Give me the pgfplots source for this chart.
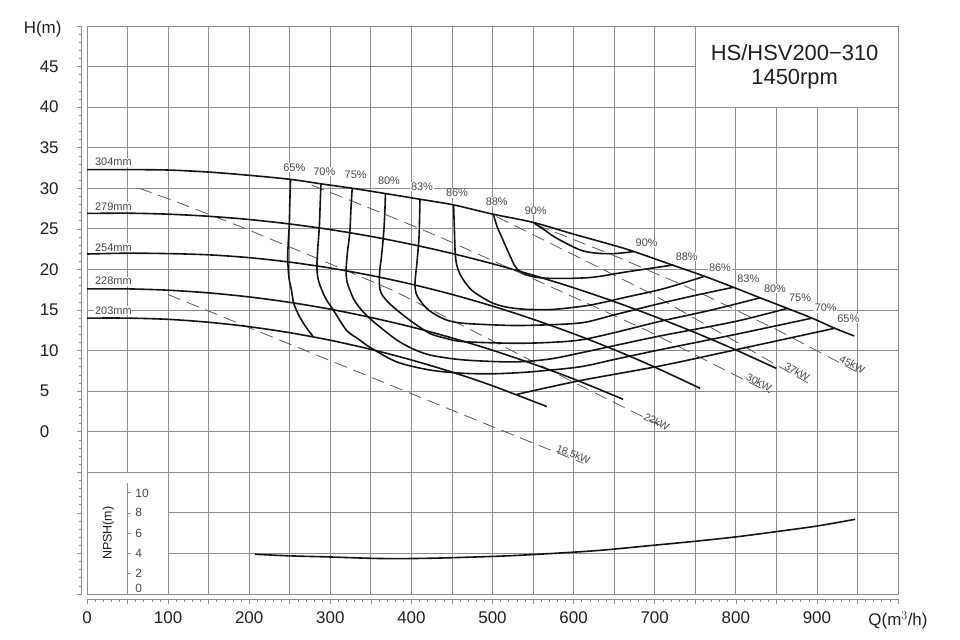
\documentclass[border=0pt]{standalone}
\usepackage{fontspec}
\setmainfont{Liberation Sans}
\usepackage{pgfplots}
\pgfplotsset{compat=1.18}
\definecolor{gridc}{gray}{0.55}
\definecolor{txtc}{gray}{0.12}
\definecolor{lblc}{gray}{0.28}
\definecolor{curvec}{gray}{0.08}
\definecolor{dashc}{gray}{0.35}
\tikzset{
  crv/.style={curvec, line width=1.6bp, smooth},
  pw/.style={dashc, line width=0.8bp, dash pattern=on 13bp off 7bp},
  eff/.style={font=\fontsize{11}{11}\selectfont, text=lblc, fill=white, inner sep=0.6bp},
  imp/.style={font=\fontsize{11}{11}\selectfont, text=lblc, fill=white, inner sep=0.6bp, anchor=base west},
  kw/.style={font=\fontsize{10.5}{10.5}\selectfont, text=lblc, anchor=south, inner sep=0.5bp},
  nl/.style={anchor=west, font=\fontsize{12}{12}\selectfont, text=lblc, inner sep=0pt},
}
\begin{document}
\begin{tikzpicture}
\useasboundingbox (0bp,0bp) rectangle (960bp,640bp);
\begin{axis}[
  at={(87bp,46bp)}, anchor=south west,
  scale only axis, width=811bp, height=568bp,
  xmin=0, xmax=1000, ymin=-20, ymax=50,
  clip=false,
  axis x line*=bottom, axis y line*=left,
  axis x line shift=5bp, axis y line shift=5.3bp,
  axis line style={gridc, line width=0.8bp, -},
  xtick={0,50,...,1000},
  xticklabels={0,,100,,200,,300,,400,,500,,600,,700,,800,,900,,{Q(m$^3$/h)}},
  ytick={-20,-15,...,50},
  yticklabels={,,,,0,5,10,15,20,25,30,35,40,45,},
  minor x tick num=4, minor y tick num=4,
  tick align=outside,
  major tick length=5bp, minor tick length=3bp,
  every tick/.style={gridc, line width=0.6bp},
  grid=major, major grid style={gridc, line width=0.8bp},
  tick label style={font=\fontsize{17}{17}\selectfont, text=txtc},
  xticklabel style={yshift=-4.5bp},
  yticklabel style={anchor=west, xshift=-40.4bp},
]
% white areas
\fill[white] ([xshift=0.5bp,yshift=0.5bp]axis cs:750,40) rectangle ([xshift=-0.5bp,yshift=-0.5bp]axis cs:1000,50);
\fill[white] ([xshift=0.5bp,yshift=0.5bp]axis cs:0,-20) rectangle ([xshift=-0.5bp,yshift=-0.5bp]axis cs:100,-5);
\draw[gridc, line width=0.8bp] (rel axis cs:0,0) rectangle (rel axis cs:1,1);

\node[anchor=base east, font=\fontsize{17}{17}\selectfont, text=txtc, inner sep=0pt] at (axis cs:-31.2,49.1) {H(m)};

% title
\node[anchor=base, font=\fontsize{22}{22}\selectfont, text=txtc] at (axis cs:872.6,45.71) {HS/HSV200−310};
\node[anchor=base, font=\fontsize{22}{22}\selectfont, text=txtc] at (axis cs:872.6,42.75) {1450rpm};

% power lines
\addplot[pw] coordinates {(100,16.9)(213,12.3)(476,1.6)(612,-3.9)};
\addplot[pw] coordinates {(64.5,30.0)(106,28.5)(188.7,25.3)(283,21.4)(377.7,17.4)(500,11.2)(600,6.1)(710.6,0.6)};
\addplot[pw] coordinates {(277,30.4)(360,27.1)(435,24.0)(560,18.4)(690,12.5)(842,4.8)};
\addplot[pw] coordinates {(505,26.5)(600,21.8)(694,17.1)(800,11.1)(889,6.0)};
\addplot[pw] coordinates {(554,25.5)(650,21.7)(750,17.4)(850,12.6)(949,7.4)};
\node[kw, rotate=-22] at (axis cs:597.6,-3.3) {18.5kW};
\node[kw, rotate=-27] at (axis cs:700,0.7) {22kW};
\node[kw, rotate=-27] at (axis cs:826,5.6) {30kW};
\node[kw, rotate=-30] at (axis cs:873,6.9) {37kW};
\node[kw, rotate=-28] at (axis cs:941,7.8) {45kW};

% impeller labels
\node[imp] at (axis cs:9,32.76) {304mm};
\node[imp] at (axis cs:9,27.3) {279mm};
\node[imp] at (axis cs:9,22.2) {254mm};
\node[imp] at (axis cs:9,18.1) {228mm};
\node[imp] at (axis cs:9,14.5) {203mm};

% efficiency labels
\node[eff] at (axis cs:255.6,32.55) {65\%};
\node[eff] at (axis cs:292.6,32.06) {70\%};
\node[eff] at (axis cs:331.3,31.65) {75\%};
\node[eff] at (axis cs:372.4,30.95) {80\%};
\node[eff] at (axis cs:413.1,30.21) {83\%};
\node[eff] at (axis cs:456.2,29.4) {86\%};
\node[eff] at (axis cs:505.2,28.32) {88\%};
\node[eff] at (axis cs:553.3,27.21) {90\%};
\node[eff] at (axis cs:690.1,23.23) {90\%};
\node[eff] at (axis cs:739.5,21.58) {88\%};
\node[eff] at (axis cs:780.5,20.15) {86\%};
\node[eff] at (axis cs:815.4,18.91) {83\%};
\node[eff] at (axis cs:848.3,17.68) {80\%};
\node[eff] at (axis cs:879.2,16.45) {75\%};
\node[eff] at (axis cs:910.9,15.22) {70\%};
\node[eff] at (axis cs:938.7,13.98) {65\%};

% impeller curves
\addplot[crv] coordinates {(0,32.3)(50,32.3)(100,32.25)(150,32.0)(200,31.6)(251,31.1)(288.5,30.55)(327,30.0)(368,29.35)(410.6,28.65)(452,27.95)(501,26.8)(550,25.8)(600,24.35)(650,22.95)(674.5,22.2)(723,20.5)(763,19.1)(797,17.8)(830,16.5)(863.5,15.2)(894,14.0)(922,12.75)(946,11.8)};
\addplot[crv] coordinates {(0,26.9)(50,26.93)(100,26.81)(150,26.55)(200,26.15)(250,25.6)(300,24.91)(350,24.07)(400,23.09)(450,21.97)(500,20.70)(550,19.29)(600,17.74)(650,16.04)(700,14.19)(750,12.21)(800,10.08)(850,7.8)};
\addplot[crv] coordinates {(0,21.9)(50,22.0)(100,21.95)(150,21.8)(200,21.45)(250,20.9)(300,20.17)(350,19.26)(400,18.18)(450,16.92)(500,15.48)(550,13.86)(600,12.07)(650,10.11)(700,7.96)(756,5.35)};
\addplot[crv] coordinates {(0,17.6)(50,17.6)(100,17.44)(150,17.11)(200,16.61)(250,15.94)(300,15.10)(350,14.08)(400,12.91)(450,11.56)(500,10.04)(550,8.35)(600,6.50)(661,4.0)};
\addplot[crv] coordinates {(0,14.0)(50,14.0)(100,13.85)(150,13.49)(200,12.94)(250,12.2)(300,11.27)(350,10.15)(400,8.84)(450,7.35)(500,5.66)(567,3.1)};

% efficiency curves
\addplot[crv] coordinates {(251,31.1)(250,28)(249.5,25.7)(248,23)(247.5,21.2)(249,19)(252,17.5)(255,15.8)(262,14.2)(270,12.9)(279,11.7)};
\addplot[crv] coordinates {(530,4.6)(608,6.3)(706.5,8.1)(800,10.1)(922,12.75)};
\addplot[crv] coordinates {(288.5,30.55)(287.5,28)(286.5,25.3)(284.5,22.5)(283.5,20.3)(285,18.8)(289.4,17.5)(295,16.3)(303.7,15.0)(320,12.5)(335,11.4)(349,10.4)(382,8.6)(423,7.6)(464,7.2)(505,7.15)(550,7.4)(608,8.0)(650,8.9)(706.5,10.1)(800,12.0)(894,14.0)};
\addplot[crv] coordinates {(327,30.0)(325.5,27.5)(324,24.5)(321,22)(319.5,19.9)(320.5,18.5)(324,17.5)(329,16.3)(336,15.3)(345,14.3)(360,13.0)(382,11.3)(400,10.3)(423,9.45)(464,8.85)(526,8.6)(570,8.95)(608,9.7)(650,10.6)(706.5,11.8)(800,13.6)(863.5,15.2)};
\addplot[crv] coordinates {(368,29.35)(367,26.5)(365.4,24.0)(363,21.5)(361,19.9)(360.5,18.5)(361.3,17.5)(365,16.7)(372,15.9)(382,15.0)(400,13.6)(423,12.1)(443,11.5)(464,11.1)(526,10.9)(570,11.0)(608,11.3)(650,12.2)(706.5,13.6)(770,15.0)(830,16.5)};
\addplot[crv] coordinates {(410.6,28.65)(410,26)(409.4,24)(407,21)(404.4,18.3)(406,17)(410.6,16.2)(421,15.0)(440,13.9)(460,13.4)(505,13.15)(542,13.1)(608,13.4)(650,14.4)(706.5,15.8)(750,16.8)(797,17.8)};
\addplot[crv] coordinates {(452,27.95)(453,25)(454,22)(456,20.5)(460,19.4)(467,18.3)(476,17.3)(497,16.0)(515,15.4)(538,15.1)(560,15.05)(579,15.1)(620,15.6)(665.5,16.6)(710,17.6)(760,19.1)};
\addplot[crv] coordinates {(501,26.8)(506,25.2)(513,23.6)(521,21.8)(530,20.1)(546,19.2)(571,18.9)(620,19.0)(665.5,19.7)(723,20.55)};
\addplot[crv] coordinates {(550,25.8)(565,24.8)(579,23.85)(608,22.4)(628.5,22.0)(650,21.95)(674.5,22.2)};

% NPSH axis
\draw[gridc, line width=0.8bp] (axis cs:50,-6.36) -- (axis cs:50,-20);
\draw[gridc, line width=0.6bp] (axis cs:50,-17.5) -- ++(3.5bp,0bp);
\draw[gridc, line width=0.6bp] (axis cs:50,-15) -- ++(3.5bp,0bp);
\draw[gridc, line width=0.6bp] (axis cs:50,-12.5) -- ++(3.5bp,0bp);
\draw[gridc, line width=0.6bp] (axis cs:50,-10) -- ++(3.5bp,0bp);
\draw[gridc, line width=0.6bp] (axis cs:50,-7.5) -- ++(3.5bp,0bp);
\node[nl] at ([xshift=7.7bp]axis cs:50,-19.35) {0};
\node[nl] at ([xshift=7.7bp]axis cs:50,-17.5) {2};
\node[nl] at ([xshift=7.7bp]axis cs:50,-15) {4};
\node[nl] at ([xshift=7.7bp]axis cs:50,-12.5) {6};
\node[nl] at ([xshift=7.7bp]axis cs:50,-10) {8};
\node[nl] at ([xshift=7.7bp]axis cs:50,-7.6) {10};
\node[rotate=90, font=\fontsize{12.5}{12.5}\selectfont, text=txtc] at (axis cs:26.3,-12.5) {NPSH(m)};
\addplot[crv] table[x=q, y expr=-20+1.25*\thisrow{n}] {
q n
207 3.92
250 3.76
300 3.65
361 3.50
420 3.52
509 3.73
570 3.98
632 4.30
698 4.80
750 5.20
801 5.64
850 6.15
900 6.70
947 7.36
};
\end{axis}
\end{tikzpicture}
\end{document}
